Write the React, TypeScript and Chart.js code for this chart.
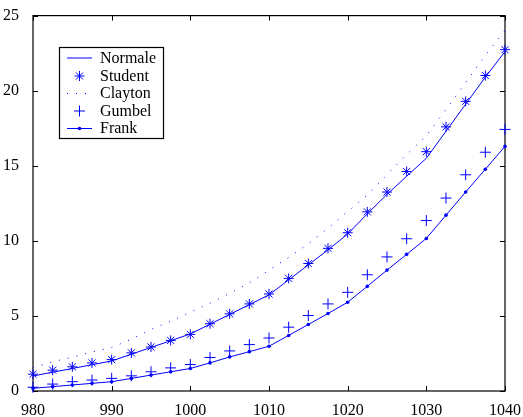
import React, { useEffect, useRef } from "react";
import { Chart, registerables } from "chart.js";

Chart.register(...registerables);

// Abscissa values (step 2.5)
const xValues = [
  980, 982.5, 985, 987.5, 990, 992.5, 995, 997.5, 1000, 1002.5, 1005, 1007.5,
  1010, 1012.5, 1015, 1017.5, 1020, 1022.5, 1025, 1027.5, 1030, 1032.5, 1035,
  1037.5, 1040,
];

const normale = [
  1.0, 1.25, 1.5, 1.75, 2.0, 2.45, 2.9, 3.35, 3.8, 4.45, 5.1, 5.75, 6.4, 7.4,
  8.4, 9.4, 10.45, 11.8, 13.1, 14.3, 15.5, 17.3, 19.1, 20.9, 22.6,
];

const student = [
  1.12, 1.39, 1.61, 1.87, 2.09, 2.54, 2.93, 3.37, 3.77, 4.48, 5.14, 5.8, 6.46,
  7.5, 8.49, 9.5, 10.54, 11.93, 13.25, 14.62, 15.94, 17.59, 19.29, 21.01, 22.73,
];

const clayton = [
  1.55, 1.95, 2.25, 2.6, 2.9, 3.45, 4.1, 4.65, 5.25, 5.85, 6.5, 7.2, 8.05, 8.9,
  9.8, 10.85, 11.95, 13.05, 14.4, 15.75, 17.0, 18.75, 20.55, 22.35, 24.0,
];

const gumbel = [
  0.25, 0.46, 0.62, 0.73, 0.84, 1.01, 1.28, 1.54, 1.76, 2.23, 2.67, 3.09, 3.53,
  4.25, 5.03, 5.8, 6.57, 7.74, 8.93, 10.14, 11.35, 12.85, 14.4, 15.9, 17.42,
];

const frank = [
  0.18, 0.29, 0.4, 0.51, 0.62, 0.84, 1.06, 1.28, 1.5, 1.87, 2.27, 2.62, 2.98,
  3.7, 4.43, 5.16, 5.91, 6.97, 8.05, 9.1, 10.16, 11.71, 13.25, 14.77, 16.29,
];

const seriesNames = ["Normale", "Student", "Clayton", "Gumbel", "Frank"];

const BLUE = "#0000ff";
const FONT_FAMILY = "'Liberation Serif', 'Times New Roman', serif";

const toPoints = (values: number[]) =>
  values.map((y, i) => ({ x: xValues[i], y }));

// Axes box with inward tick marks on all four sides
const boxPlugin = {
  id: "matlabBox",
  beforeDatasetsDraw(chart: any) {
    const { ctx, chartArea } = chart;
    const { left, right, top, bottom } = chartArea;
    const xs = chart.scales.x;
    const ys = chart.scales.y;
    const tickLen = 5;
    ctx.save();
    ctx.strokeStyle = "#000";
    ctx.lineWidth = 1.2;
    ctx.strokeRect(left, top, right - left, bottom - top);
    ctx.lineWidth = 1;
    ctx.beginPath();
    xs.ticks.forEach((t: any) => {
      const px = Math.round(xs.getPixelForValue(t.value)) + 0.5;
      ctx.moveTo(px, bottom);
      ctx.lineTo(px, bottom - tickLen);
      ctx.moveTo(px, top);
      ctx.lineTo(px, top + tickLen);
    });
    ys.ticks.forEach((t: any) => {
      const py = Math.round(ys.getPixelForValue(t.value)) + 0.5;
      ctx.moveTo(left, py);
      ctx.lineTo(left + tickLen, py);
      ctx.moveTo(right, py);
      ctx.lineTo(right - tickLen, py);
    });
    ctx.stroke();
    ctx.restore();
  },
};

// Legend box in the upper-left corner
const legendPlugin = {
  id: "matlabLegend",
  afterDraw(chart: any) {
    const ctx = chart.ctx as CanvasRenderingContext2D;
    const bx = 59.5;
    const by = 47.5;
    const bw = 104;
    const bh = 91;
    const rows = [58, 76, 93.5, 111, 128.5];
    const lx0 = 67;
    const lx1 = 92;
    const mx = 79.5;
    ctx.save();
    ctx.fillStyle = "#fff";
    ctx.fillRect(bx, by, bw, bh);
    ctx.strokeStyle = "#000";
    ctx.lineWidth = 1.2;
    ctx.strokeRect(bx, by, bw, bh);

    ctx.strokeStyle = BLUE;
    ctx.fillStyle = BLUE;
    ctx.lineWidth = 1;

    // Normale: solid line
    ctx.beginPath();
    ctx.moveTo(lx0, rows[0]);
    ctx.lineTo(lx1, rows[0]);
    ctx.stroke();

    // Student: asterisk
    {
      const r = 5;
      const d = r * Math.SQRT1_2;
      const y = rows[1];
      ctx.beginPath();
      ctx.moveTo(mx - r, y);
      ctx.lineTo(mx + r, y);
      ctx.moveTo(mx, y - r);
      ctx.lineTo(mx, y + r);
      ctx.moveTo(mx - d, y - d);
      ctx.lineTo(mx + d, y + d);
      ctx.moveTo(mx - d, y + d);
      ctx.lineTo(mx + d, y - d);
      ctx.stroke();
    }

    // Clayton: dotted line
    ctx.save();
    ctx.setLineDash([1, 8]);
    ctx.beginPath();
    ctx.moveTo(lx0, rows[2]);
    ctx.lineTo(lx1, rows[2]);
    ctx.stroke();
    ctx.restore();

    // Gumbel: plus
    {
      const r = 5.5;
      const y = rows[3];
      ctx.beginPath();
      ctx.moveTo(mx - r, y);
      ctx.lineTo(mx + r, y);
      ctx.moveTo(mx, y - r);
      ctx.lineTo(mx, y + r);
      ctx.stroke();
    }

    // Frank: line with dot
    ctx.beginPath();
    ctx.moveTo(lx0, rows[4]);
    ctx.lineTo(lx1, rows[4]);
    ctx.stroke();
    ctx.beginPath();
    ctx.arc(mx, rows[4], 1.8, 0, Math.PI * 2);
    ctx.fill();

    // Labels
    ctx.fillStyle = "#000";
    ctx.font = `16px ${FONT_FAMILY}`;
    ctx.textAlign = "left";
    ctx.textBaseline = "middle";
    seriesNames.forEach((name, i) => {
      ctx.fillText(name, 100, rows[i] + 0.5);
    });
    ctx.restore();
  },
};

export default function App() {
  const canvasRef = useRef<HTMLCanvasElement | null>(null);

  useEffect(() => {
    const canvas = canvasRef.current;
    if (!canvas) return;

    const chart = new Chart(canvas, {
      type: "line",
      data: {
        datasets: [
          {
            label: seriesNames[0],
            data: toPoints(normale),
            borderColor: BLUE,
            borderWidth: 1,
            pointRadius: 0,
            tension: 0,
            clip: false as any,
          },
          {
            label: seriesNames[1],
            data: toPoints(student),
            showLine: false,
            borderColor: BLUE,
            backgroundColor: BLUE,
            pointStyle: "star",
            pointRadius: 5,
            pointBorderWidth: 1,
            clip: false as any,
          },
          {
            label: seriesNames[2],
            data: toPoints(clayton),
            borderColor: BLUE,
            borderWidth: 1,
            borderDash: [1, 8],
            pointRadius: 0,
            tension: 0,
            clip: false as any,
          },
          {
            label: seriesNames[3],
            data: toPoints(gumbel),
            showLine: false,
            borderColor: BLUE,
            backgroundColor: BLUE,
            pointStyle: "cross",
            pointRadius: 5.5,
            pointBorderWidth: 1,
            clip: false as any,
          },
          {
            label: seriesNames[4],
            data: toPoints(frank),
            borderColor: BLUE,
            backgroundColor: BLUE,
            borderWidth: 1,
            pointStyle: "circle",
            pointRadius: 1.8,
            pointBorderWidth: 0,
            tension: 0,
            clip: false as any,
          },
        ],
      },
      options: {
        responsive: false,
        animation: false,
        events: [],
        layout: { padding: { top: 14, right: 17, left: 0, bottom: 0 } },
        plugins: {
          legend: { display: false },
          tooltip: { enabled: false },
          title: { display: false },
        },
        scales: {
          x: {
            type: "linear",
            min: 980,
            max: 1040,
            grid: { display: false },
            border: { display: false },
            ticks: {
              stepSize: 10,
              color: "#000",
              padding: 2,
              maxRotation: 0,
              font: { family: FONT_FAMILY, size: 16 },
              callback: (value: any) => String(value),
            },
            afterFit: (scale: any) => {
              scale.height = 26;
            },
          },
          y: {
            type: "linear",
            min: 0,
            max: 25,
            grid: { display: false },
            border: { display: false },
            ticks: {
              stepSize: 5,
              color: "#000",
              padding: 6,
              font: { family: FONT_FAMILY, size: 16 },
              callback: (value: any) => String(value),
            },
            afterFit: (scale: any) => {
              scale.width = 33;
            },
          },
        },
      },
      plugins: [boxPlugin, legendPlugin],
    });

    return () => {
      chart.destroy();
    };
  }, []);

  return (
    <div
      style={{
        position: "fixed",
        left: 0,
        top: 0,
        width: 523,
        height: 417,
        background: "#fff",
      }}
    >
      <canvas ref={canvasRef} width={523} height={417} />
    </div>
  );
}
